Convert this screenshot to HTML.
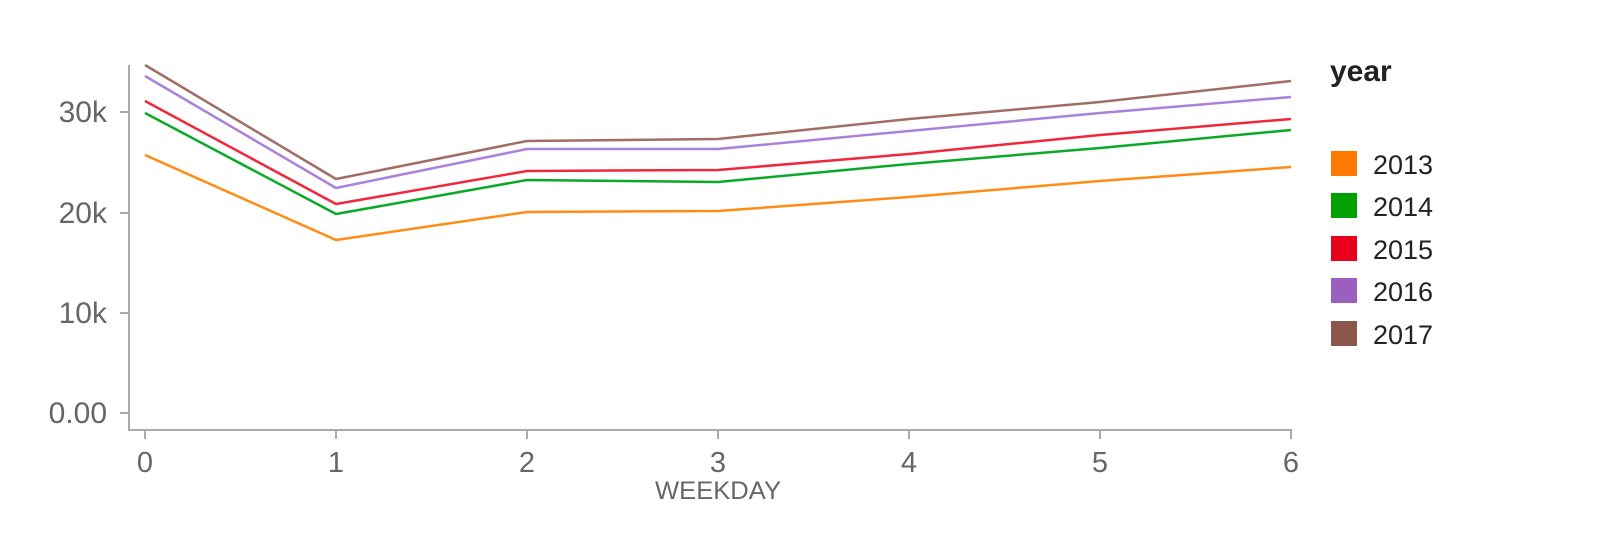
<!DOCTYPE html>
<html><head><meta charset="utf-8"><style>
html,body{margin:0;padding:0;background:#fff;width:1600px;height:540px;overflow:hidden}
svg text{font-family:"Liberation Sans",sans-serif}
</style></head><body>
<svg width="1600" height="540" xmlns="http://www.w3.org/2000/svg">
<g stroke="#aaa" stroke-width="2" fill="none">
<path d="M129 65V430H1292"/>
<path d="M120 112H129M120 213H129M120 313H129M120 413H129"/>
<path d="M145 430v9M336 430v9M527 430v9M718 430v9M909 430v9M1100 430v9M1291 430v9"/>
</g>
<g fill="#666" font-size="30" text-anchor="end">
<text x="107" y="122">30k</text><text x="107" y="223">20k</text><text x="107" y="323">10k</text><text x="107" y="423">0.00</text>
</g>
<g fill="#666" font-size="29" text-anchor="middle">
<text x="145" y="472">0</text><text x="336" y="472">1</text><text x="527" y="472">2</text><text x="718" y="472">3</text><text x="909" y="472">4</text><text x="1100" y="472">5</text><text x="1291" y="472">6</text>
<text x="718" y="499" font-size="25" textLength="126" lengthAdjust="spacingAndGlyphs">WEEKDAY</text>
</g>
<g fill="none" stroke-width="2.5" stroke-linejoin="round">
<polyline stroke="#ff8c14" points="145,155 336,240 527,212 718,211 909,197 1100,181 1291,167"/>
<polyline stroke="#0aaa28" points="145,113 336,214 527,180 718,182 909,164 1100,148 1291,130"/>
<polyline stroke="#f0283c" points="145,101 336,204 527,171 718,170 909,154 1100,135 1291,119"/>
<polyline stroke="#aa82dc" points="145,76 336,188 527,149 718,149 909,131 1100,113 1291,97"/>
<polyline stroke="#a06e64" points="145,65 336,179 527,141 718,139 909,119 1100,102 1291,81"/>
</g>
<text x="1330" y="81" font-size="30" font-weight="bold" fill="#222">year</text>
<g font-size="27" fill="#222">
<rect x="1331" y="151" width="26" height="25" fill="#ff7800"/><text x="1373" y="174">2013</text>
<rect x="1331" y="193" width="26" height="25" fill="#00a000"/><text x="1373" y="216">2014</text>
<rect x="1331" y="236" width="26" height="25" fill="#e8001c"/><text x="1373" y="259">2015</text>
<rect x="1331" y="278" width="26" height="25" fill="#9b5fc0"/><text x="1373" y="301">2016</text>
<rect x="1331" y="321" width="26" height="25" fill="#8c564b"/><text x="1373" y="344">2017</text>
</g>
</svg>
</body></html>
